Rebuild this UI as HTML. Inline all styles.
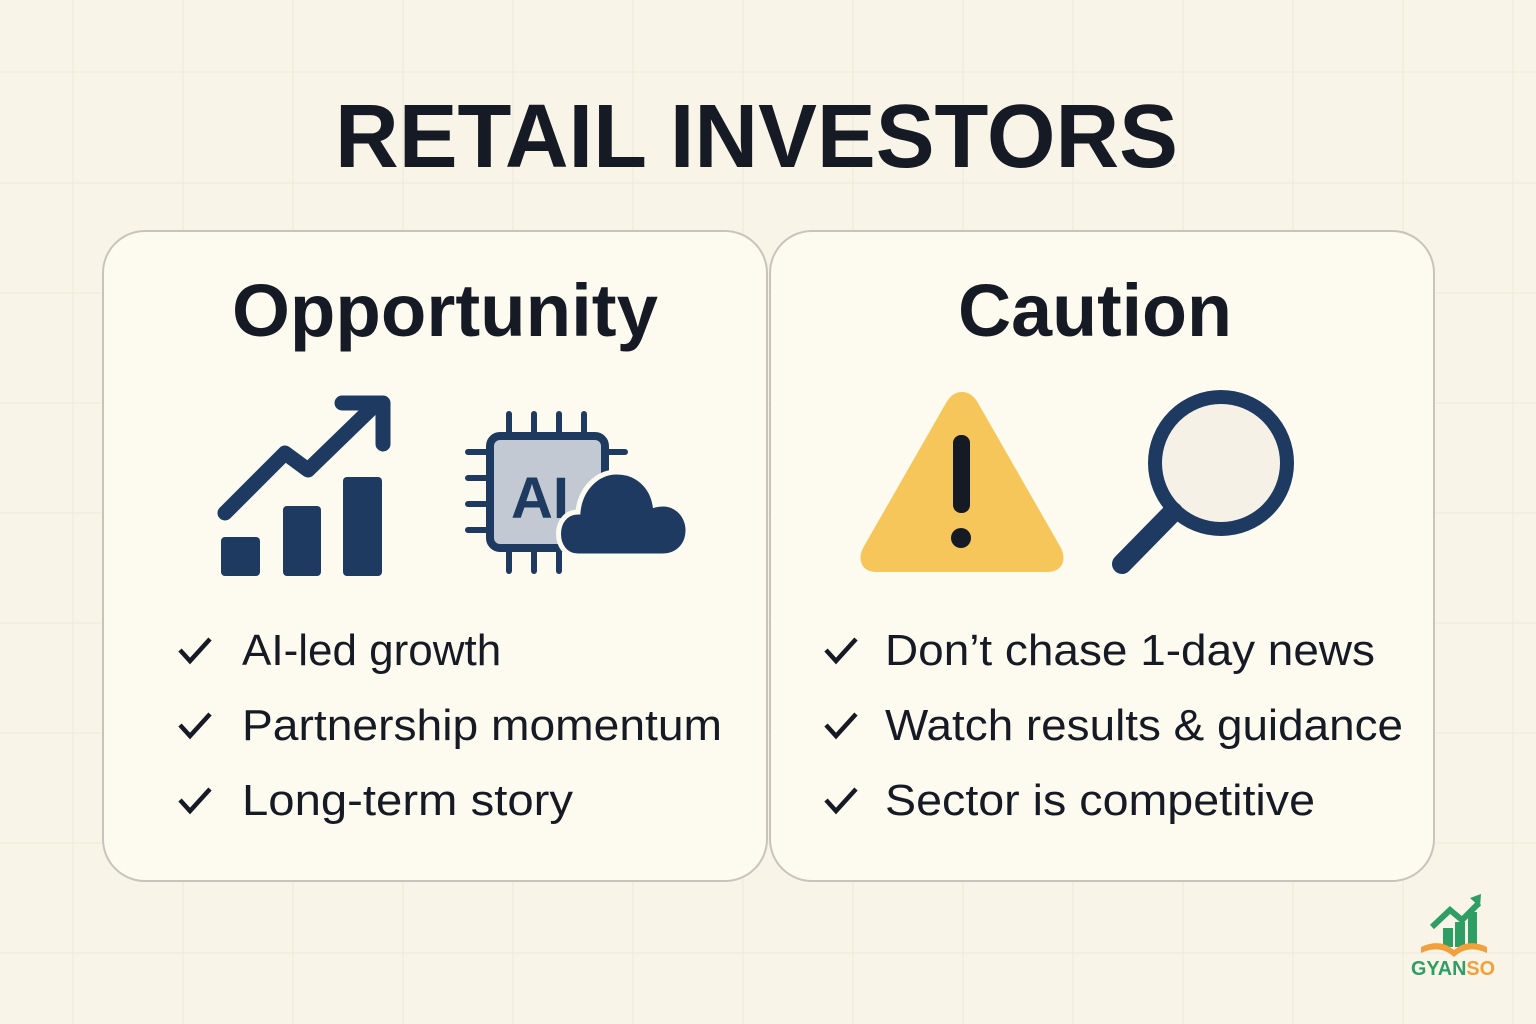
<!DOCTYPE html>
<html><head><meta charset="utf-8"><style>
html,body{margin:0;padding:0;background:#f8f4e7;}
svg{display:block;}
</style></head><body>
<svg width="1536" height="1024" viewBox="0 0 1536 1024" xmlns="http://www.w3.org/2000/svg">
<rect width="1536" height="1024" fill="#f8f4e7"/>
<g stroke="#f0ebdd" stroke-width="1.5">
<line x1="73" y1="0" x2="73" y2="1024"/><line x1="183" y1="0" x2="183" y2="1024"/><line x1="293" y1="0" x2="293" y2="1024"/><line x1="403" y1="0" x2="403" y2="1024"/><line x1="513" y1="0" x2="513" y2="1024"/><line x1="633" y1="0" x2="633" y2="1024"/><line x1="743" y1="0" x2="743" y2="1024"/><line x1="853" y1="0" x2="853" y2="1024"/><line x1="963" y1="0" x2="963" y2="1024"/><line x1="1073" y1="0" x2="1073" y2="1024"/><line x1="1183" y1="0" x2="1183" y2="1024"/><line x1="1293" y1="0" x2="1293" y2="1024"/><line x1="1403" y1="0" x2="1403" y2="1024"/><line x1="1513" y1="0" x2="1513" y2="1024"/>
<line x1="0" y1="72" x2="1536" y2="72"/><line x1="0" y1="183" x2="1536" y2="183"/><line x1="0" y1="293" x2="1536" y2="293"/><line x1="0" y1="403" x2="1536" y2="403"/><line x1="0" y1="513" x2="1536" y2="513"/><line x1="0" y1="623" x2="1536" y2="623"/><line x1="0" y1="733" x2="1536" y2="733"/><line x1="0" y1="843" x2="1536" y2="843"/><line x1="0" y1="953" x2="1536" y2="953"/>
</g>
<text x="335" y="167" textLength="843" lengthAdjust="spacingAndGlyphs" font-family="Liberation Sans, sans-serif" font-weight="bold" font-size="90" fill="#151a24">RETAIL INVESTORS</text>

<rect x="103" y="231" width="664" height="650" rx="42" fill="#fdfaf0" stroke="#c8c4bb" stroke-width="2"/>
<rect x="770" y="231" width="664" height="650" rx="42" fill="#fdfaf0" stroke="#c8c4bb" stroke-width="2"/>

<text x="232" y="336" textLength="426" lengthAdjust="spacingAndGlyphs" font-family="Liberation Sans, sans-serif" font-weight="bold" font-size="74" fill="#151a24">Opportunity</text>
<text x="958" y="336" textLength="274" lengthAdjust="spacingAndGlyphs" font-family="Liberation Sans, sans-serif" font-weight="bold" font-size="74" fill="#151a24">Caution</text>

<g fill="#1f3a60">
<rect x="221" y="537" width="39" height="39" rx="4"/>
<rect x="283" y="506" width="38" height="70" rx="4"/>
<rect x="343" y="477" width="39" height="99" rx="4"/>
<polyline points="225,513 285,453 308,470 375,405" fill="none" stroke="#1f3a60" stroke-width="15" stroke-linecap="round" stroke-linejoin="round"/>
<polyline points="342,403 383,403 383,444" fill="none" stroke="#1f3a60" stroke-width="15" stroke-linecap="round" stroke-linejoin="round"/>
</g>
<g>
<g stroke="#1f3a60" stroke-width="6" stroke-linecap="round">
<line x1="509" y1="414" x2="509" y2="440"/><line x1="534" y1="414" x2="534" y2="440"/><line x1="559" y1="414" x2="559" y2="440"/><line x1="584" y1="414" x2="584" y2="440"/>
<line x1="509" y1="545" x2="509" y2="571"/><line x1="534" y1="545" x2="534" y2="571"/><line x1="559" y1="545" x2="559" y2="571"/>
<line x1="468" y1="452" x2="490" y2="452"/><line x1="468" y1="478" x2="490" y2="478"/><line x1="468" y1="504" x2="490" y2="504"/><line x1="468" y1="530" x2="490" y2="530"/>
<line x1="605" y1="452" x2="625" y2="452"/>
</g>
<rect x="490" y="436" width="115" height="112" rx="10" fill="#c3c9d2" stroke="#1f3a60" stroke-width="8"/>
<text x="511" y="518" font-family="Liberation Sans, sans-serif" font-weight="bold" font-size="58" fill="#1f3a60">AI</text>
<path d="M578,556 C552,556 552,512 578,512 C580,490 596,472 617,472 C638,472 652,487 655,505 C675,500 688,515 688,530 C688,545 678,556 662,556 Z" fill="#1f3a60" stroke="#fdfaf0" stroke-width="5"/>
</g>

<g>
<path d="M962,392 C955,392 950,396 946,403 L863,548 C857,560 862,572 876,572 L1048,572 C1062,572 1067,560 1061,548 L978,403 C974,396 969,392 962,392 Z" fill="#f6c65a"/>
<rect x="953" y="435" width="17" height="78" rx="8" fill="#151a24"/>
<circle cx="961" cy="538" r="10" fill="#151a24"/>
</g>
<g>
<circle cx="1221" cy="463" r="66" fill="#f6f1e6" stroke="#1f3a60" stroke-width="14"/>
<line x1="1173" y1="512" x2="1122" y2="564" stroke="#1f3a60" stroke-width="20" stroke-linecap="round"/>
</g>

<g font-family="Liberation Sans, sans-serif" font-size="44" fill="#151a24">
<g>
<path d="M180,650 l10,11 l20,-22" fill="none" stroke="#151a24" stroke-width="4.5"/>
<text x="242" y="665">AI-led growth</text>
<path d="M180,725 l10,11 l20,-22" fill="none" stroke="#151a24" stroke-width="4.5"/>
<text x="242" y="740" textLength="480" lengthAdjust="spacingAndGlyphs">Partnership momentum</text>
<path d="M180,800 l10,11 l20,-22" fill="none" stroke="#151a24" stroke-width="4.5"/>
<text x="242" y="815" textLength="331" lengthAdjust="spacingAndGlyphs">Long-term story</text>
</g>
<g>
<path d="M826,650 l10,11 l20,-22" fill="none" stroke="#151a24" stroke-width="4.5"/>
<text x="885" y="665" textLength="490" lengthAdjust="spacingAndGlyphs">Don’t chase 1-day news</text>
<path d="M826,725 l10,11 l20,-22" fill="none" stroke="#151a24" stroke-width="4.5"/>
<text x="885" y="740" textLength="518" lengthAdjust="spacingAndGlyphs">Watch results &amp; guidance</text>
<path d="M826,800 l10,11 l20,-22" fill="none" stroke="#151a24" stroke-width="4.5"/>
<text x="885" y="815" textLength="430" lengthAdjust="spacingAndGlyphs">Sector is competitive</text>
</g>
</g>

<g>
<rect x="1443" y="928" width="10" height="19" fill="#2e9e64"/>
<rect x="1455" y="922" width="10" height="25" fill="#2e9e64"/>
<rect x="1468" y="912" width="9" height="35" fill="#2e9e64"/>
<polyline points="1432,927 1450,910 1462,920 1479,903" fill="none" stroke="#2e9e64" stroke-width="6"/>
<polygon points="1470,898 1481,894 1480,907" fill="#2e9e64"/>
<path d="M1421,947 Q1440,938 1454,950 Q1468,938 1487,947 L1487,953 Q1468,944 1454,957 Q1440,944 1421,953 Z" fill="#f2a03b"/>
<text x="1411" y="975" textLength="84" lengthAdjust="spacingAndGlyphs" font-family="Liberation Sans, sans-serif" font-weight="bold" font-size="20" fill="#2e9e64">GYAN<tspan fill="#f2a03b">SO</tspan></text>
</g>
</svg>
</body></html>
